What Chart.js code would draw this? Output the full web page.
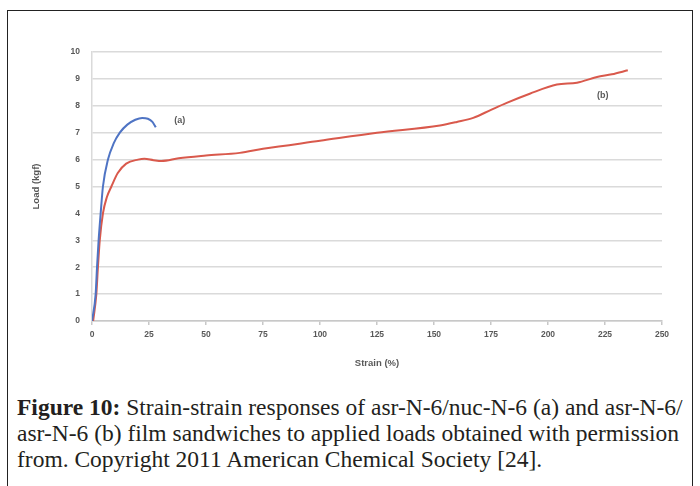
<!DOCTYPE html>
<html>
<head>
<meta charset="utf-8">
<script src="https://cdn.jsdelivr.net/npm/chart.js@4/dist/chart.umd.min.js"></script>
<style>
  html, body { margin: 0; padding: 0; background: #fff; }
  body { width: 700px; height: 486px; position: relative; overflow: hidden; }
  #frame { position: absolute; left: 7px; top: 10px; width: 686px; height: 490px;
           border: 1.5px solid #222; box-sizing: border-box; }
  #wrap { position: absolute; left: 0; top: 0; width: 700px; height: 373px; }
  #caption { position: absolute; left: 17px; top: 394px; width: 680px;
             font-family: "Liberation Serif", "DejaVu Serif", serif; font-size: 23.5px;
             line-height: 26px; color: #231f20; white-space: nowrap; }
  #caption b { font-weight: bold; }
</style>
</head>
<body>
<div id="frame"></div>
<div id="wrap"><canvas id="c"></canvas></div>
<div id="caption">
  <div><b>Figure 10:</b> Strain-strain responses of asr-N-6/nuc-N-6 (a) and asr-N-6/</div>
  <div>asr-N-6 (b) film sandwiches to applied loads obtained with permission</div>
  <div>from. Copyright 2011 American Chemical Society [24].</div>
</div>
<script>
// Series (a): asr-N-6/nuc-N-6
const strainA = [0, 1.6, 2.2, 2.9, 3.8, 4.8, 7, 9.5, 12.2, 15.5, 19, 22, 24.5, 26.5, 28];
const loadA   = [0, 1.0, 2.0, 3.0, 4.0, 5.0, 6.0, 6.6, 7.0, 7.3, 7.48, 7.55, 7.52, 7.4, 7.2];
// Series (b): asr-N-6/asr-N-6
const strainB = [0.5, 1.9, 2.6, 3.4, 4.8, 6.5, 8.5, 11.3, 15, 20.2, 23, 27, 30.5, 38, 50, 64.8, 75, 100, 125, 152.6, 160, 167.2, 175, 181.9, 192, 203.9, 212.7, 221.5, 228, 235];
const loadB   = [0, 1.0, 2.0, 3.0, 4.0, 4.6, 5.0, 5.5, 5.85, 6.0, 6.03, 5.98, 5.95, 6.05, 6.15, 6.25, 6.4, 6.7, 7.0, 7.27, 7.4, 7.55, 7.85, 8.11, 8.45, 8.79, 8.86, 9.07, 9.17, 9.32];
// Axis ticks
const xTicks = [0, 25, 50, 75, 100, 125, 150, 175, 200, 225, 250];
const yTicks = [0, 1, 2, 3, 4, 5, 6, 7, 8, 9, 10];
const curveLabels = [{text: '(a)', x: 38.5, y: 7.45}, {text: '(b)', x: 224, y: 8.4}];

const toPts = (xs, ys) => xs.map((x, i) => ({x, y: ys[i]}));

const labelPlugin = {
  id: 'curveLabels',
  afterDatasetsDraw(chart) {
    const {ctx, scales: {x, y}} = chart;
    ctx.save();
    ctx.font = 'bold 9px "Liberation Sans", Arial, sans-serif';
    ctx.fillStyle = '#595959';
    ctx.textAlign = 'center';
    ctx.textBaseline = 'middle';
    curveLabels.forEach(l => ctx.fillText(l.text, x.getPixelForValue(l.x), y.getPixelForValue(l.y)));
    ctx.restore();
  }
};

const tickFont = {family: '"Liberation Sans", Arial, sans-serif', size: 8.5, weight: 'bold'};

new Chart(document.getElementById('c'), {
  type: 'scatter',
  data: {
    datasets: [
      {data: toPts(strainA, loadA), showLine: true, borderColor: '#4f74c4', borderWidth: 2, pointRadius: 0, cubicInterpolationMode: 'monotone'},
      {data: toPts(strainB, loadB), showLine: true, borderColor: '#d9594c', borderWidth: 2, pointRadius: 0, cubicInterpolationMode: 'monotone'}
    ]
  },
  options: {
    responsive: true,
    maintainAspectRatio: false,
    animation: false,
    layout: {padding: {left: 31, right: 38, top: 52, bottom: 0}},
    plugins: {legend: {display: false}, tooltip: {enabled: false}},
    scales: {
      x: {
        type: 'linear', min: 0, max: 250,
        afterBuildTicks: s => { s.ticks = xTicks.map(v => ({value: v})); },
        afterFit: s => { s.height = 52; },
        ticks: {font: tickFont, color: '#595959', padding: 5, maxRotation: 0},
        grid: {drawOnChartArea: false, color: '#c8c8c8', lineWidth: 1.5, tickLength: 4},
        border: {color: '#c8c8c8', width: 1.5},
        title: {display: true, text: 'Strain (%)', color: '#595959', font: {family: '"Liberation Sans", Arial, sans-serif', size: 9.5, weight: 'bold'}, padding: {top: 8}}
      },
      y: {
        min: 0, max: 10,
        afterBuildTicks: s => { s.ticks = yTicks.map(v => ({value: v})); },
        afterFit: s => { s.width = 61; },
        ticks: {font: tickFont, color: '#595959', padding: 12},
        grid: {color: '#dadada', lineWidth: 1.5, drawTicks: false},
        border: {display: true, color: '#dadada', width: 1.5},
        title: {display: true, text: 'Load (kgf)', color: '#595959', font: {family: '"Liberation Sans", Arial, sans-serif', size: 9.5, weight: 'bold'}, padding: 0}
      }
    }
  },
  plugins: [labelPlugin]
});
</script>
</body>
</html>
